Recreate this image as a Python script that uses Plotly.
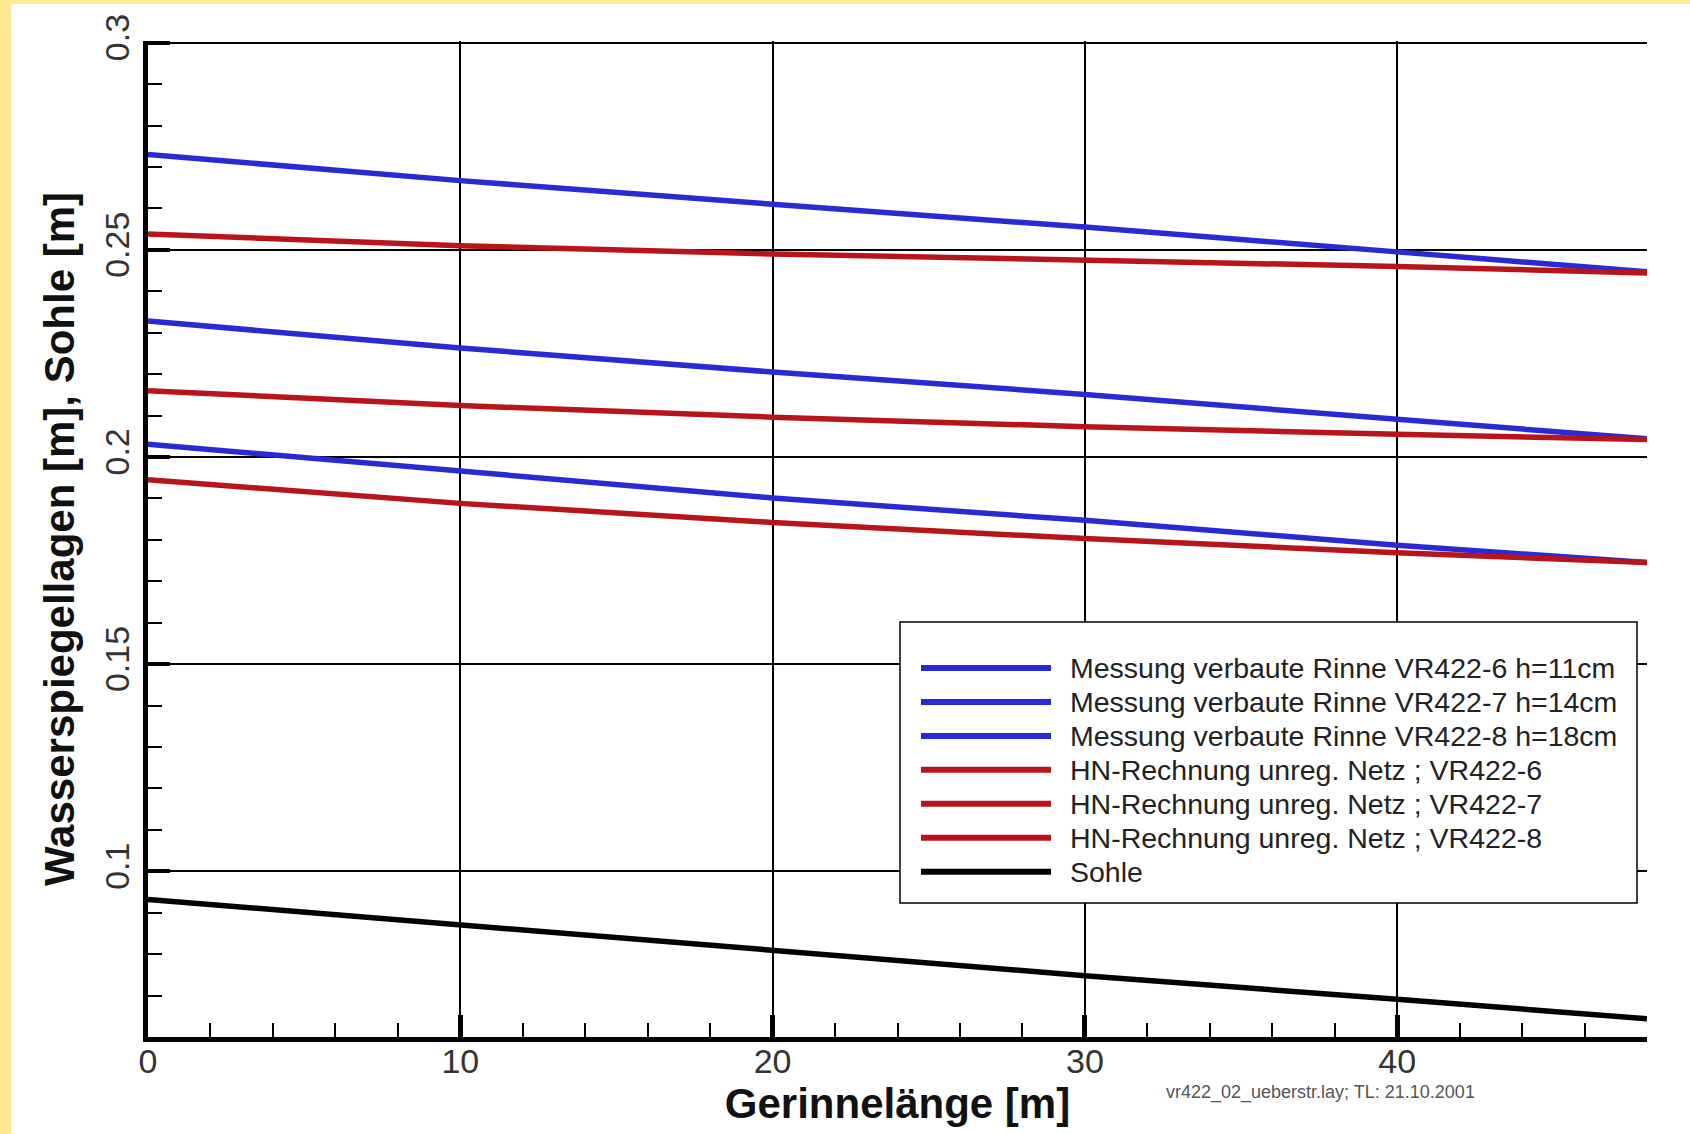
import plotly.graph_objects as go

# ---- data ----
x_pos = [0, 10, 20, 30, 40, 48]

mess_vr422_6 = [0.2031, 0.1965, 0.1901, 0.1847, 0.1787, 0.1745]
mess_vr422_7 = [0.2328, 0.2263, 0.2205, 0.2151, 0.2091, 0.2044]
mess_vr422_8 = [0.2730, 0.2667, 0.2610, 0.2555, 0.2495, 0.2447]
hn_vr422_6 = [0.1945, 0.1888, 0.1842, 0.1803, 0.1769, 0.1745]
hn_vr422_7 = [0.2160, 0.2124, 0.2096, 0.2073, 0.2055, 0.2042]
hn_vr422_8 = [0.2538, 0.2510, 0.2490, 0.2475, 0.2460, 0.2444]
sohle = [0.0932, 0.0871, 0.0811, 0.0748, 0.0691, 0.0644]

series_names = [
    "Messung verbaute Rinne VR422-6 h=11cm",
    "Messung verbaute Rinne VR422-7 h=14cm",
    "Messung verbaute Rinne VR422-8 h=18cm",
    "HN-Rechnung unreg. Netz ; VR422-6",
    "HN-Rechnung unreg. Netz ; VR422-7",
    "HN-Rechnung unreg. Netz ; VR422-8",
    "Sohle",
]
series_values = [mess_vr422_6, mess_vr422_7, mess_vr422_8,
                 hn_vr422_6, hn_vr422_7, hn_vr422_8, sohle]

BLUE = "#2a2ad2"
RED = "#b8141c"
BLACK = "#000000"
series_colors = [BLUE, BLUE, BLUE, RED, RED, RED, BLACK]

x_title = "Gerinnelänge [m]"
y_title = "Wasserspiegellagen [m], Sohle [m]"
footnote = "vr422_02_ueberstr.lay; TL: 21.10.2001"

# ---- layout geometry (pixels) ----
FIG_W, FIG_H = 1690, 1134
L, R, T, B = 148, 1647, 41, 1037


def px(x):
    return (x - L) / (R - L)


def py(y):
    return (B - y) / (B - T)


FONT = "Liberation Sans, Arial, Helvetica, sans-serif"

fig = go.Figure()
for name, vals, col in zip(series_names, series_values, series_colors):
    fig.add_trace(go.Scatter(x=x_pos, y=vals, mode="lines", name=name,
                             line=dict(color=col, width=5.5), showlegend=False))

shapes = []
annotations = []

# yellow frame strips (top and left)
YELLOW = "rgb(255,234,145)"
shapes.append(dict(type="rect", xref="paper", yref="paper",
                   x0=px(0), x1=px(FIG_W), y0=py(4), y1=py(0),
                   fillcolor=YELLOW, line=dict(width=0), layer="above"))
shapes.append(dict(type="rect", xref="paper", yref="paper",
                   x0=px(0), x1=px(11), y0=py(FIG_H), y1=py(0),
                   fillcolor=YELLOW, line=dict(width=0), layer="above"))

# manual legend box
LEG_L, LEG_R, LEG_T, LEG_B = 900, 1637, 622, 903
shapes.append(dict(type="rect", xref="paper", yref="paper",
                   x0=px(LEG_L), x1=px(LEG_R), y0=py(LEG_B), y1=py(LEG_T),
                   fillcolor="white", line=dict(color="black", width=1.5),
                   layer="above"))
row0, row_step = 668, 33.95
for i, (name, col) in enumerate(zip(series_names, series_colors)):
    yy = row0 + i * row_step
    shapes.append(dict(type="line", xref="paper", yref="paper",
                       x0=px(921), x1=px(1051), y0=py(yy), y1=py(yy),
                       line=dict(color=col, width=6), layer="above"))
    annotations.append(dict(xref="paper", yref="paper", x=px(1068), y=py(yy),
                            xanchor="left", yanchor="middle", showarrow=False,
                            text=name, font=dict(family=FONT, size=28.5, color="#222222")))

annotations.append(dict(xref="paper", yref="paper", x=px(1164), y=py(1092),
                        xanchor="left", yanchor="middle", showarrow=False,
                        text=footnote, font=dict(family=FONT, size=18, color="#555555")))

fig.update_layout(
    width=FIG_W, height=FIG_H,
    margin=dict(l=L, r=FIG_W - R, t=T, b=FIG_H - B, autoexpand=False),
    paper_bgcolor="white", plot_bgcolor="white",
    shapes=shapes, annotations=annotations,
    font=dict(family=FONT, color="#333333"),
    showlegend=False,
)

fig.update_xaxes(
    range=[0, 48], tick0=0, dtick=10, automargin=False,
    showline=True, linecolor="black", linewidth=5,
    ticks="inside", ticklen=22, tickwidth=5, tickcolor="black",
    showgrid=True, gridcolor="black", gridwidth=1.5, zeroline=False,
    minor=dict(dtick=2, ticks="inside", ticklen=14, tickwidth=2,
               tickcolor="black", showgrid=False),
    tickfont=dict(family=FONT, size=34, color="#333333"),
    ticklabelstandoff=-10,
    title=dict(text=x_title, standoff=2,
               font=dict(family=FONT, size=42, color="#111111", weight="bold")),
)
fig.update_yaxes(
    range=[0.06, 0.3004], tick0=0, dtick=0.05, automargin=False,
    showline=True, linecolor="black", linewidth=5,
    ticks="inside", ticklen=22, tickwidth=4, tickcolor="black",
    showgrid=True, gridcolor="black", gridwidth=1.5, zeroline=False,
    minor=dict(dtick=0.01, ticks="inside", ticklen=14, tickwidth=2,
               tickcolor="black", showgrid=False),
    tickangle=-90,
    tickfont=dict(family=FONT, size=34, color="#333333"),
    title=dict(text=y_title, standoff=12,
               font=dict(family=FONT, size=42, color="#111111", weight="bold")),
)

fig.write_html("out.html", config={"displayModeBar": False},
               post_script="document.body.style.margin='0px';")
